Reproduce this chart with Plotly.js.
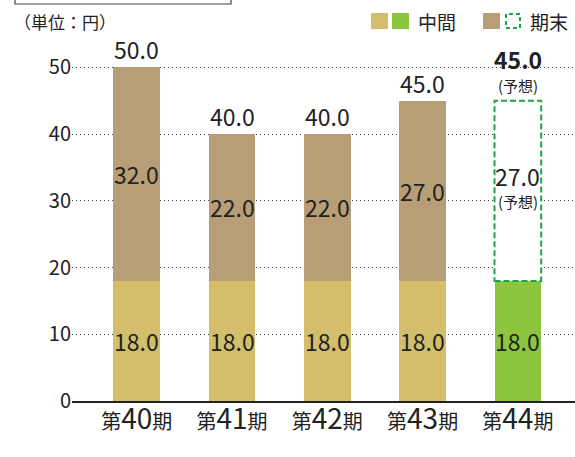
<!DOCTYPE html>
<html><head><meta charset="utf-8">
<script src="https://cdn.plot.ly/plotly-3.0.1.min.js"></script>
<style>html,body{margin:0;padding:0;background:#fff}#c{width:575px;height:457px}</style>
</head><body><div id="c"></div>
<script>
const categories = ['第40期','第41期','第42期','第43期','第44期'];
const periodNumbers = ['40','41','42','43','44'];
const interim = [18, 18, 18, 18, 18];
const yearEnd = [32, 22, 22, 27, 27];
const isForecast = [false, false, false, false, true];
const yTicks = [0, 10, 20, 30, 40, 50];

const F = '"Noto Sans CJK JP", "Noto Sans", sans-serif';
const cOlive = '#D3BE6B', cGreen = '#8CC63F', cTan = '#B89E76', cDash = '#1BA84A', txt = '#222';
const idx = categories.map((_, i) => i);
const BW = 0.49;
const totals = interim.map((v, i) => v + yearEnd[i]);

const tickText = periodNumbers.map(n => '第<span style="font-size:28px">' + n + '</span>期');

const traces = [
  { type: 'bar', x: idx, y: interim, width: BW, name: '中間',
    marker: { color: isForecast.map(f => f ? cGreen : cOlive), line: { width: 0 } },
    hoverinfo: 'none', showlegend: false },
  { type: 'bar', x: idx, y: yearEnd, width: BW, name: '期末',
    marker: { color: isForecast.map(f => f ? '#ffffff' : cTan), line: { width: 0 } },
    hoverinfo: 'none', showlegend: false }
];

const VS = 23;
const annotations = [];
idx.forEach(i => {
  annotations.push({ x: i, y: interim[i] / 2, xref: 'x', yref: 'y', text: interim[i].toFixed(1),
    showarrow: false, font: { family: F, size: VS, color: txt } });
  const midEnd = interim[i] + yearEnd[i] / 2;
  if (isForecast[i]) {
    annotations.push({ x: i, y: midEnd, xref: 'x', yref: 'y', text: yearEnd[i].toFixed(1),
      showarrow: false, yshift: 15, font: { family: F, size: VS, color: txt } });
    annotations.push({ x: i, y: midEnd, xref: 'x', yref: 'y', text: '(予想)',
      showarrow: false, yshift: -11, font: { family: F, size: 15, color: txt } });
    annotations.push({ x: i, y: totals[i], xref: 'x', yref: 'y', text: '<b>' + totals[i].toFixed(1) + '</b>',
      showarrow: false, yanchor: 'middle', yshift: 42, font: { family: F, size: VS, color: txt } });
    annotations.push({ x: i, y: totals[i], xref: 'x', yref: 'y', text: '(予想)',
      showarrow: false, yanchor: 'middle', yshift: 15, font: { family: F, size: 15, color: txt } });
  } else {
    annotations.push({ x: i, y: midEnd, xref: 'x', yref: 'y', text: yearEnd[i].toFixed(1),
      showarrow: false, font: { family: F, size: VS, color: txt } });
    annotations.push({ x: i, y: totals[i], xref: 'x', yref: 'y', text: totals[i].toFixed(1),
      showarrow: false, yanchor: 'middle', yshift: 18, font: { family: F, size: VS, color: txt } });
  }
});

const shapes = [];
idx.forEach(i => {
  if (isForecast[i]) {
    shapes.push({ type: 'rect', xref: 'x', yref: 'y', x0: i - BW / 2, x1: i + BW / 2,
      y0: interim[i], y1: totals[i], line: { color: cDash, width: 2, dash: '6px,3px' }, fillcolor: 'rgba(0,0,0,0)', layer: 'above' });
  }
});

const ML = 72, MT = 34, MB = 56;
const layout = {
  width: 575, height: 457,
  margin: { l: ML, r: 0, t: MT, b: MB },
  paper_bgcolor: '#fff', plot_bgcolor: '#fff',
  barmode: 'stack',
  font: { family: F, color: txt },
  xaxis: { range: [-0.68, 4.6], tickvals: idx, ticktext: tickText, showgrid: false, zeroline: false,
    showline: true, linecolor: '#222', linewidth: 2, ticks: '', fixedrange: true, ticklabelstandoff: 2,
    tickfont: { family: F, size: 20, color: txt } },
  yaxis: { range: [0, 55], tickvals: yTicks, showgrid: true, gridcolor: '#444', gridwidth: 1, griddash: '1px,3px',
    zeroline: false, showline: false, ticks: '', ticklabelstandoff: 0,
    tickfont: { family: F, size: 20, color: txt } },
  annotations: annotations,
  shapes: shapes,
  showlegend: false
};

// pixel -> paper helpers for the legend and frame decorations
const W = 575 - ML, H = 457 - MT - MB;
const px = x => (x - ML) / W, py = y => (457 - MB - y) / H;
layout.shapes = shapes.concat([
  { type: 'path', xref: 'paper', yref: 'paper',
    path: `M ${px(15)} ${py(-2)} L ${px(15)} ${py(4)} L ${px(231)} ${py(4)} L ${px(231)} ${py(-2)}`,
    line: { color: '#444', width: 1.2 } },
  { type: 'rect', xref: 'paper', yref: 'paper', x0: px(371), x1: px(388), y0: py(29), y1: py(13), fillcolor: cOlive, line: { width: 0 } },
  { type: 'rect', xref: 'paper', yref: 'paper', x0: px(392), x1: px(409), y0: py(29), y1: py(13), fillcolor: cGreen, line: { width: 0 } },
  { type: 'rect', xref: 'paper', yref: 'paper', x0: px(483), x1: px(500), y0: py(29), y1: py(13), fillcolor: cTan, line: { width: 0 } },
  { type: 'rect', xref: 'paper', yref: 'paper', x0: px(506), x1: px(520), y0: py(28), y1: py(14), fillcolor: 'rgba(0,0,0,0)', line: { color: cDash, width: 2, dash: '4px,3px' } }
]);
layout.annotations = annotations.concat([
  { xref: 'paper', yref: 'paper', x: px(416), y: py(21), xanchor: 'left', yanchor: 'middle', text: '中間', showarrow: false, font: { family: F, size: 19, color: txt } },
  { xref: 'paper', yref: 'paper', x: px(528), y: py(21), xanchor: 'left', yanchor: 'middle', text: '期末', showarrow: false, font: { family: F, size: 19, color: txt } },
  { xref: 'paper', yref: 'paper', x: px(12), y: py(22), xanchor: 'left', yanchor: 'middle', text: '（単位：円）', showarrow: false, font: { family: F, size: 17, color: txt } }
]);

Plotly.newPlot('c', traces, layout, { staticPlot: true, displayModeBar: false });
</script></body></html>
